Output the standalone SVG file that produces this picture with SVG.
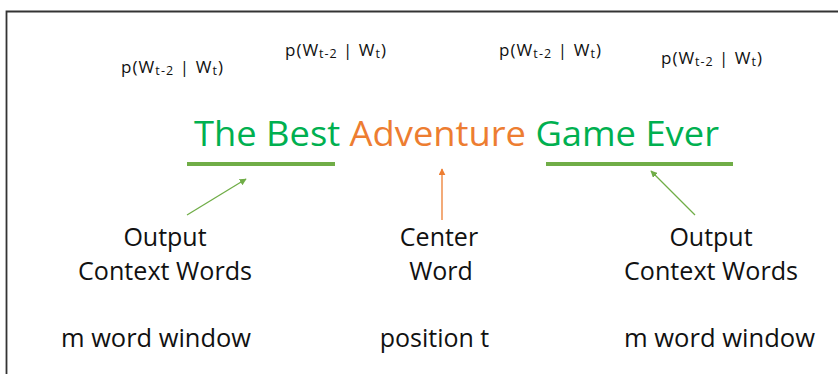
<svg xmlns="http://www.w3.org/2000/svg" width="838" height="374" viewBox="0 0 838 374">
  <defs>
    <style>
      .lbl { font-family: "Open Sans", "Noto Sans", sans-serif; font-size: 25px; fill: #111; text-anchor: middle; }
      .prob { font-family: "Open Sans", "Noto Sans", sans-serif; font-size: 17px; fill: #111; }
      .sub { font-size: 12.5px; }
      .title { font-family: "Open Sans", "Noto Sans", sans-serif; font-size: 34px; }
      .ctx { fill: #00B050; }
      .center { fill: #ED7D31; }
      .bar { stroke: #70AD47; stroke-width: 4; }
      .garrow { stroke: #70AD47; stroke-width: 1.3; fill: none; marker-end: url(#gHead); }
      .oarrow { stroke: #ED7D31; stroke-width: 1.3; fill: none; marker-end: url(#oHead); }
    </style>
    <marker id="gHead" viewBox="0 0 10 10" refX="9" refY="5" markerWidth="7" markerHeight="7" markerUnits="userSpaceOnUse" orient="auto">
      <path d="M0,0 L10,5 L0,10 z" fill="#70AD47"/>
    </marker>
    <marker id="oHead" viewBox="0 0 10 10" refX="9" refY="5" markerWidth="7" markerHeight="7" markerUnits="userSpaceOnUse" orient="auto">
      <path d="M0,0 L10,5 L0,10 z" fill="#ED7D31"/>
    </marker>
  </defs>

  <rect width="838" height="374" fill="#ffffff"/>
  <!-- frame -->
  <path d="M6.5,374 V11.5 H838" fill="none" stroke="#333" stroke-width="1.8"/>

  <!-- probability labels -->
  <g id="prob1"><text class="prob" x="121" y="73" textLength="102" lengthAdjust="spacing">p(W<tspan class="sub" dy="2">t-2</tspan><tspan dy="-2"> | W</tspan><tspan class="sub" dy="2">t</tspan><tspan dy="-2">)</tspan></text></g>
  <g id="prob2"><text class="prob" x="285" y="56" textLength="101" lengthAdjust="spacing">p(W<tspan class="sub" dy="2">t-2</tspan><tspan dy="-2"> | W</tspan><tspan class="sub" dy="2">t</tspan><tspan dy="-2">)</tspan></text></g>
  <g id="prob3"><text class="prob" x="499" y="56" textLength="102" lengthAdjust="spacing">p(W<tspan class="sub" dy="2">t-2</tspan><tspan dy="-2"> | W</tspan><tspan class="sub" dy="2">t</tspan><tspan dy="-2">)</tspan></text></g>
  <g id="prob4"><text class="prob" x="661" y="64" textLength="101" lengthAdjust="spacing">p(W<tspan class="sub" dy="2">t-2</tspan><tspan dy="-2"> | W</tspan><tspan class="sub" dy="2">t</tspan><tspan dy="-2">)</tspan></text></g>

  <!-- sentence -->
  <g id="sentence">
    <text class="title" x="194" y="146" textLength="525" lengthAdjust="spacingAndGlyphs"><tspan class="ctx">The Best </tspan><tspan class="center">Adventure</tspan><tspan class="ctx"> Game Ever</tspan></text>
  </g>

  <!-- context window bars -->
  <g id="leftWindow"><line class="bar" x1="187" y1="164" x2="335" y2="164"/></g>
  <g id="rightWindow"><line class="bar" x1="546" y1="164" x2="733" y2="164"/></g>

  <!-- labels -->
  <g id="leftLabel">
    <text class="lbl" x="165" y="246">Output</text>
    <text class="lbl" x="165" y="280" textLength="174" lengthAdjust="spacingAndGlyphs">Context Words</text>
    <text class="lbl" x="156" y="347" textLength="190" lengthAdjust="spacingAndGlyphs">m word window</text>
  </g>
  <g id="centerLabel">
    <text class="lbl" x="439" y="246">Center</text>
    <text class="lbl" x="441" y="280">Word</text>
    <text class="lbl" x="434.5" y="347">position t</text>
  </g>
  <g id="rightLabel">
    <text class="lbl" x="711" y="246">Output</text>
    <text class="lbl" x="711" y="280" textLength="174" lengthAdjust="spacingAndGlyphs">Context Words</text>
    <text class="lbl" x="719.5" y="347" textLength="191" lengthAdjust="spacingAndGlyphs">m word window</text>
  </g>

  <!-- connectors -->
  <g id="connectors">
    <line class="garrow" x1="187" y1="215" x2="246" y2="179"/>
    <line class="oarrow" x1="442" y1="220" x2="442" y2="169"/>
    <line class="garrow" x1="695" y1="215" x2="651" y2="171"/>
  </g>
</svg>
